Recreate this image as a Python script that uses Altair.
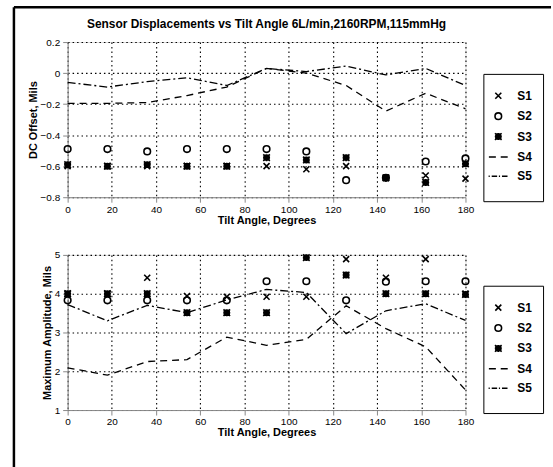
import altair as alt
import pandas as pd

angles = [0, 18, 36, 54, 72, 90, 108, 126, 144, 162, 180]
series_names = ["S1", "S2", "S3", "S4", "S5"]

# DC offset (top panel)
dc_s1 = [-0.60, -0.60, -0.60, -0.60, -0.60, -0.60, -0.62, -0.60, -0.675, -0.66, -0.68]
dc_s2 = [-0.49, -0.49, -0.505, -0.49, -0.49, -0.49, -0.505, -0.69, -0.675, -0.57, -0.55]
dc_s3 = [-0.59, -0.60, -0.59, -0.60, -0.60, -0.545, -0.56, -0.545, -0.675, -0.705, -0.585]
dc_s4 = [-0.195, -0.195, -0.19, -0.145, -0.09, 0.03, 0.0, -0.08, -0.245, -0.13, -0.23]
dc_s5 = [-0.06, -0.09, -0.055, -0.03, -0.08, 0.03, 0.01, 0.045, -0.012, 0.03, -0.08]

# Maximum amplitude (bottom panel)
amp_s1 = [4.0, 4.0, 4.41, 3.94, 3.92, 3.92, 3.92, 4.89, 4.41, 4.89, 4.0]
amp_s2 = [3.83, 3.83, 3.83, 3.83, 3.83, 4.32, 4.32, 3.83, 4.31, 4.32, 4.32]
amp_s3 = [4.0, 4.0, 4.0, 3.51, 3.51, 3.51, 4.93, 4.48, 4.0, 4.0, 3.98]
amp_s4 = [2.09, 1.9, 2.25, 2.3, 2.88, 2.67, 2.82, 3.69, 3.1, 2.63, 1.52]
amp_s5 = [3.72, 3.3, 3.7, 3.51, 3.84, 4.11, 4.03, 2.97, 3.56, 3.74, 3.31]

x_ticks = [0, 20, 40, 60, 80, 100, 120, 140, 160, 180]
dc_ticks = [-0.8, -0.6, -0.4, -0.2, 0, 0.2]
amp_ticks = [1, 2, 3, 4, 5]

title_text = "Sensor Displacements vs Tilt Angle 6L/min,2160RPM,115mmHg"

shape_paths = [
    "M-0.31,-0.31L0.31,0.31M-0.31,0.31L0.31,-0.31",
    "M0.34,0A0.34,0.34,0,1,1,-0.34,0A0.34,0.34,0,1,1,0.34,0Z",
    "M-0.25,-0.25H0.25V0.25H-0.25ZM-0.34,-0.34L0.34,0.34M-0.34,0.34L0.34,-0.34M0,-0.36V0.36M-0.36,0H0.36",
    "M-0.97,0H-0.25M0.25,0H0.97",
    "M-1,0H-0.88M-0.68,0H-0.12M0.06,0H0.18M0.38,0H0.95",
]
dash_styles = [[7, 5], [8, 3, 2, 3]]

FONT = "Liberation Sans"
MINUS = "replace(datum.label, '-', '\u2212')"


def long_table(series_list, names):
    rows = []
    for name, vals in zip(names, series_list):
        for a, v in zip(angles, vals):
            rows.append({"angle": a, "value": v, "series": name})
    return pd.DataFrame(rows)


def panel(point_vals, line_vals, ticks, domain, ytitle, legend_y, title=None,
          frame=False):
    pts = long_table(point_vals, series_names[:3])
    lns = long_table(line_vals, series_names[3:])
    grid_kw = dict(grid=True, gridColor="black", gridDash=[1.5, 3], gridWidth=1.1,
                   gridOpacity=1)
    x = alt.X(
        "angle:Q",
        scale=alt.Scale(domain=[0, 180], nice=False),
        axis=alt.Axis(values=x_ticks, title="Tilt Angle, Degrees", labelFlush=False,
                      labelPadding=2, titlePadding=0, **grid_kw),
    )
    y = alt.Y(
        "value:Q",
        scale=alt.Scale(domain=domain, nice=False),
        axis=alt.Axis(values=ticks, title=ytitle, format="~g", labelFlush=False,
                      labelExpr=MINUS, labelPadding=3, titlePadding=2, **grid_kw),
    )
    points = alt.Chart(pts).mark_point(
        filled=False, color="black", size=380, strokeWidth=1.6, opacity=1
    ).encode(
        x=x,
        y=y,
        shape=alt.Shape(
            "series:N",
            scale=alt.Scale(domain=series_names, range=shape_paths),
            legend=alt.Legend(
                title=" ",
                titleOrient="bottom",
                titleFontSize=6,
                titlePadding=2,
                orient="none",
                legendX=418,
                legendY=legend_y,
                padding=11,
                rowPadding=2.5,
                symbolOffset=-7,
                labelOffset=8,
                symbolSize=380,
                symbolStrokeWidth=1.6,
                symbolStrokeColor="black",
                symbolFillColor="transparent",
                labelFont=FONT,
                labelFontSize=12,
                labelFontWeight="bold",
                labelColor="black",
                strokeColor="black",
                fillColor="white",
            ),
        ),
    )
    lines = alt.Chart(lns).mark_line(color="black", strokeWidth=1.3).encode(
        x=x,
        y=y,
        strokeDash=alt.StrokeDash(
            "series:N",
            scale=alt.Scale(domain=series_names[3:], range=dash_styles),
            legend=None,
        ),
    )
    layers = [lines, points]
    props = dict(width=400, height=156)
    if title is not None:
        props["title"] = alt.TitleParams(
            title, font=FONT, fontSize=12, fontWeight="bold", anchor="middle",
            offset=6, color="black"
        )
    if frame:
        # scanned page frame (left and top edges)
        frame_src = pd.DataFrame({"edge": ["frame"]})
        left_edge = alt.Chart(frame_src).mark_rule(color="black", strokeWidth=2.5).encode(
            x=alt.value(-54), y=alt.value(-249), y2=alt.value(216)
        )
        top_edge = alt.Chart(frame_src).mark_rule(color="black", strokeWidth=2.5).encode(
            x=alt.value(-54), x2=alt.value(486), y=alt.value(-249)
        )
        layers = [left_edge, top_edge] + layers
    return alt.layer(*layers).properties(**props)


top = panel([dc_s1, dc_s2, dc_s3], [dc_s4, dc_s5], dc_ticks, [-0.8, 0.2],
            "DC Offset, Mils", 32, title=title_text)
bottom = panel([amp_s1, amp_s2, amp_s3], [amp_s4, amp_s5], amp_ticks, [1, 5],
               "Maximum Amplitude, Mils", 31, frame=True)

chart = alt.vconcat(top, bottom, spacing=58, bounds="flush").resolve_scale(
    shape="independent", strokeDash="independent"
).resolve_legend(shape="independent").properties(
    padding={"left": 12, "top": 4, "right": 0, "bottom": 0}
).configure_view(
    stroke="black", strokeWidth=2
).configure_axis(
    labelFont=FONT, labelFontSize=12, labelFontWeight="bold", labelColor="black",
    titleFont=FONT, titleFontSize=11, titleFontWeight="bold", titleColor="black",
    domain=False, ticks=False,
).configure_legend(
    strokeWidth=2
).configure(background="white")

chart.save("out.html", embed_options={"renderer": "svg", "actions": False})
